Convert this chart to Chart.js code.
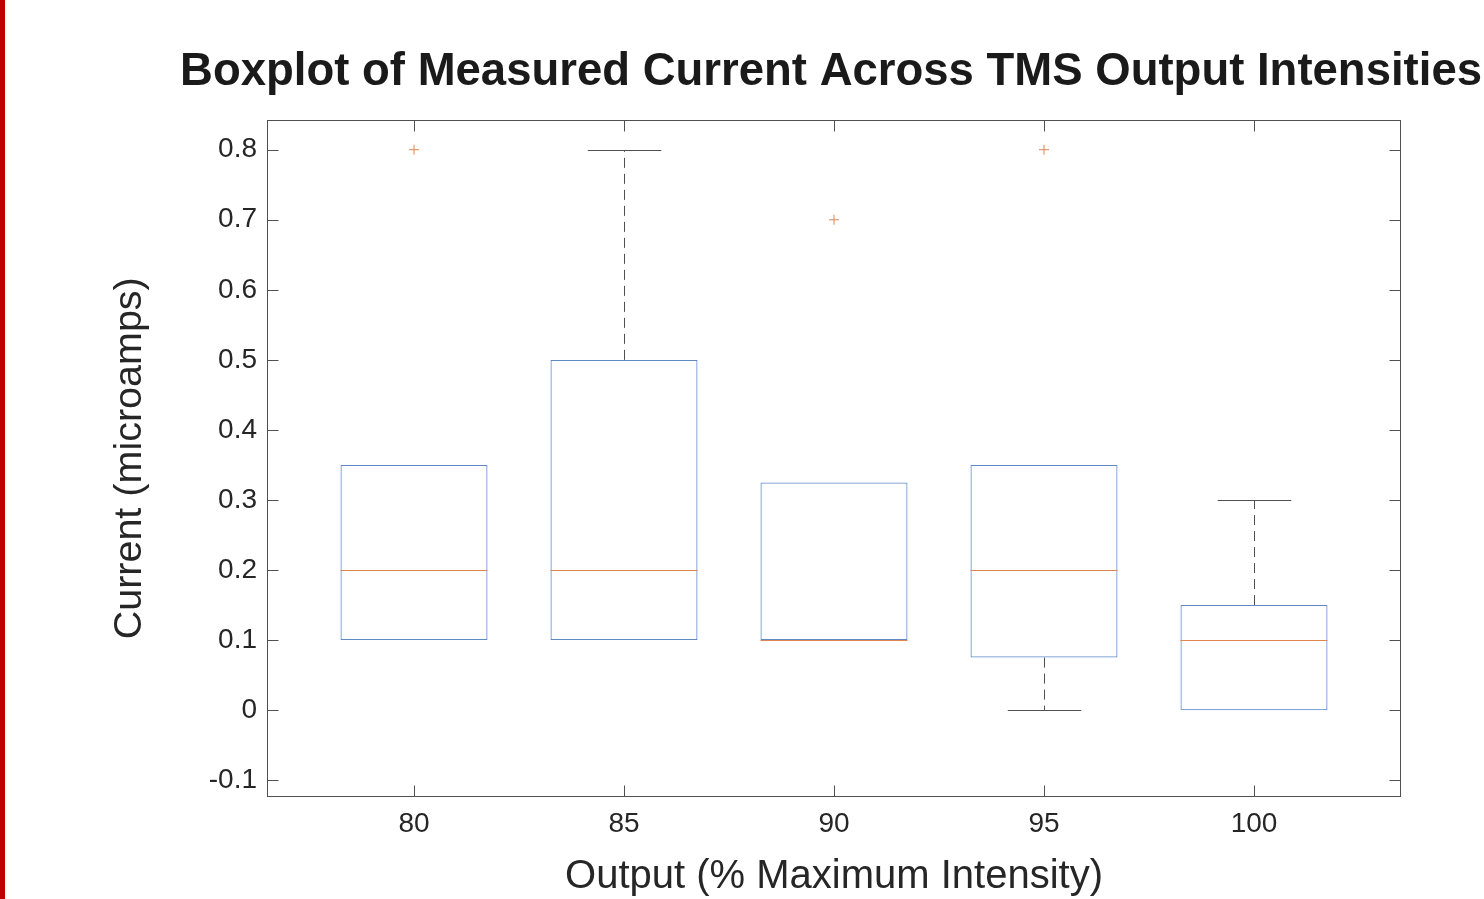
<!DOCTYPE html>
<html>
<head>
<meta charset="utf-8">
<script src="https://cdn.jsdelivr.net/npm/chart.js@4.4.0/dist/chart.umd.min.js"></script>
<style>
  html, body { margin: 0; padding: 0; background: #fff; }
  #wrap { position: relative; width: 1484px; height: 899px; }
  #edge { position: absolute; left: 0; top: 0; width: 5px; height: 899px; background: #c00000; }
</style>
</head>
<body>
<div id="wrap">
  <canvas id="chart" width="1484" height="899"></canvas>
  <div id="edge"></div>
</div>
<script>
// boxplot stats per output intensity
const outputs = [80, 85, 90, 95, 100];
const q1 = [0.1, 0.1, 0.1, 0.075, 0];
const medians = [0.2, 0.2, 0.1, 0.2, 0.1];
const q3 = [0.35, 0.5, 0.325, 0.35, 0.15];
const whiskerLow = [0.1, 0.1, 0.1, 0, 0];
const whiskerHigh = [0.35, 0.8, 0.325, 0.35, 0.3];
const outlierX = [80, 90, 95];
const outlierY = [0.8, 0.7, 0.8];
const xTicks = [80, 85, 90, 95, 100];
const yTicks = [-0.1, 0, 0.1, 0.2, 0.3, 0.4, 0.5, 0.6, 0.7, 0.8];

const BLUE = '#5d88c9';
const ORANGE = '#df8650';
const AXIS = '#505050';
const TEXT = '#262626';

Chart.defaults.font.family = '"Liberation Sans", Arial, sans-serif';
Chart.defaults.color = TEXT;

const boxExtras = {
    id: 'boxExtras',
    beforeDatasetsDraw(chart) {
        const {ctx, scales: {y}} = chart;
        const meta = chart.getDatasetMeta(0);
        ctx.save();
        ctx.strokeStyle = AXIS;
        ctx.lineWidth = 1;
        meta.data.forEach((bar, i) => {
            const cx = Math.round(bar.x) + 0.5;
            const cap = bar.width / 4;
            const segs = [];
            if (whiskerHigh[i] > q3[i]) segs.push([q3[i], whiskerHigh[i]]);
            if (whiskerLow[i] < q1[i]) segs.push([q1[i], whiskerLow[i]]);
            segs.forEach(([from, to]) => {
                const y0 = y.getPixelForValue(from);
                const y1 = Math.round(y.getPixelForValue(to)) + 0.5;
                ctx.setLineDash([10, 6]);
                ctx.beginPath();
                ctx.moveTo(cx, y0);
                ctx.lineTo(cx, y1);
                ctx.stroke();
                ctx.setLineDash([]);
                ctx.beginPath();
                ctx.moveTo(cx - cap, y1);
                ctx.lineTo(cx + cap, y1);
                ctx.stroke();
            });
        });
        ctx.restore();
    },
    afterDatasetsDraw(chart) {
        const {ctx, chartArea: {left, right, top, bottom}, scales: {x, y}} = chart;
        const meta = chart.getDatasetMeta(0);
        ctx.save();
        ctx.lineWidth = 1;
        ctx.strokeStyle = ORANGE;
        meta.data.forEach((bar, i) => {
            const my = Math.round(y.getPixelForValue(medians[i])) + 0.5;
            ctx.beginPath();
            ctx.moveTo(bar.x - bar.width / 2, my);
            ctx.lineTo(bar.x + bar.width / 2, my);
            ctx.stroke();
        });

        // axes box, ticks point inward
        ctx.strokeStyle = AXIS;
        const L = Math.round(left) + 0.5, R = Math.round(right) - 0.5;
        const T = Math.round(top) + 0.5, B = Math.round(bottom) - 0.5;
        ctx.strokeRect(L, T, R - L, B - T);
        const tl = 11;
        ctx.beginPath();
        y.ticks.forEach(t => {
            const py = Math.round(y.getPixelForValue(t.value)) + 0.5;
            ctx.moveTo(L, py); ctx.lineTo(L + tl, py);
            ctx.moveTo(R, py); ctx.lineTo(R - tl, py);
        });
        x.ticks.forEach(t => {
            const px = Math.round(x.getPixelForValue(t.value)) + 0.5;
            ctx.moveTo(px, B); ctx.lineTo(px, B - tl);
            ctx.moveTo(px, T); ctx.lineTo(px, T + tl);
        });
        ctx.stroke();
        ctx.restore();
    }
};

const ctx = document.getElementById('chart');

new Chart(ctx, {
    type: 'bar',
    data: {
        datasets: [
            {
                label: 'box',
                data: outputs.map((o, i) => ({x: o, y: [q1[i], q3[i]]})),
                backgroundColor: 'rgba(0,0,0,0)',
                borderColor: BLUE,
                borderWidth: 1,
                borderSkipped: false,
                categoryPercentage: 1,
                barPercentage: 0.7,
            },
            {
                type: 'scatter',
                label: 'outliers',
                data: outlierX.map((o, i) => ({x: o, y: outlierY[i]})),
                pointStyle: 'cross',
                radius: 5,
                borderWidth: 1,
                borderColor: ORANGE,
                backgroundColor: ORANGE,
            }
        ]
    },
    options: {
        responsive: false,
        animation: false,
        layout: { padding: { left: 0, right: 2, top: 0, bottom: 0 } },
        plugins: {
            legend: { display: false },
            tooltip: { enabled: false },
            title: {
                display: true,
                align: 'end',
                text: 'Boxplot of Measured Current Across TMS Output Intensities',
                color: '#1a1a1a',
                font: { size: 45.5, weight: 'bold' },
                padding: { top: 45, bottom: 20 },
            },
        },
        scales: {
            x: {
                type: 'linear',
                offset: false,
                min: 76.5,
                max: 103.5,
                grid: { display: false, drawTicks: false },
                border: { display: false },
                afterBuildTicks: s => { s.ticks = xTicks.map(v => ({value: v})); },
                afterFit: s => { s.height = 102; },
                ticks: {
                    font: { size: 28 },
                    padding: 10,
                    maxRotation: 0,
                    callback: v => String(v),
                },
                title: {
                    display: true,
                    text: 'Output (% Maximum Intensity)',
                    font: { size: 40, lineHeight: 1.1 },
                    padding: { top: 0, bottom: 0 },
                },
            },
            y: {
                min: -0.124,
                max: 0.843,
                grid: { display: false, drawTicks: false },
                border: { display: false },
                afterBuildTicks: s => { s.ticks = yTicks.map(v => ({value: v})); },
                afterFit: s => { s.width = 267; },
                ticks: {
                    font: { size: 28 },
                    padding: 10,
                    callback: v => String(+v.toFixed(2)),
                },
                title: {
                    display: true,
                    text: 'Current (microamps)',
                    font: { size: 39.5, lineHeight: 1.1 },
                    padding: { top: 108, bottom: 0 },
                },
            },
            // empty strip on the right of the axes box
            yRight: {
                position: 'right',
                grid: { display: false, drawTicks: false },
                border: { display: false },
                ticks: { display: false },
                afterFit: s => { s.width = 81; },
            },
        },
    },
    plugins: [boxExtras],
});
</script>
</body>
</html>
